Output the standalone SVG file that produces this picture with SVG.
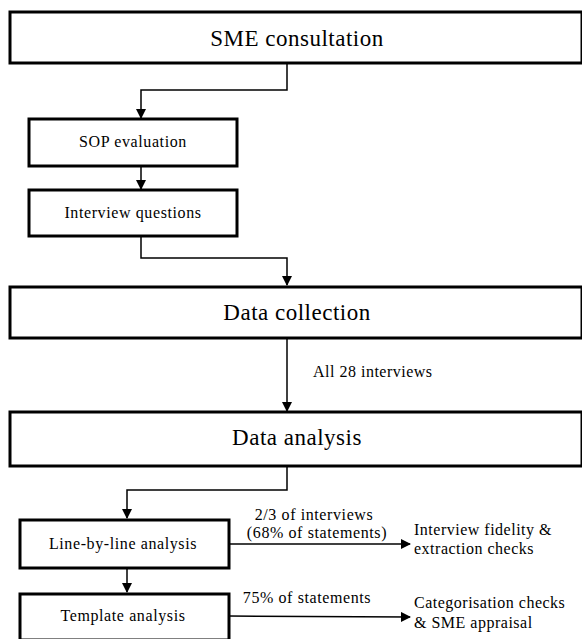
<svg xmlns="http://www.w3.org/2000/svg" width="582" height="639" viewBox="0 0 582 639" font-family="Liberation Serif, DejaVu Serif, serif">
<style>
.box{fill:#fff;stroke:#000;stroke-width:3}
.big{font-size:23px;letter-spacing:0.5px;fill:#000;text-anchor:middle}
.mid{font-size:16px;letter-spacing:0.6px;fill:#000;text-anchor:middle}
.lbl{font-size:16px;letter-spacing:0.5px;fill:#000}
.con{fill:none;stroke:#000;stroke-width:1.5}
</style>
<defs>
<marker id="ah" markerWidth="10" markerHeight="10" refX="9" refY="5" orient="auto" markerUnits="userSpaceOnUse">
<path d="M0,0 L10,5 L0,10 Z" fill="#000"/>
</marker>
</defs>
<rect width="582" height="639" fill="#fff"/>
<g id="connectors">
<path class="con" d="M287,63 V90 H141 V118" marker-end="url(#ah)"/>
<path class="con" d="M141,167 V189" marker-end="url(#ah)"/>
<path class="con" d="M141,237 V258 H287 V285" marker-end="url(#ah)"/>
<path class="con" d="M287,338 V411" marker-end="url(#ah)"/>
<path class="con" d="M287,466 V490 H127 V518" marker-end="url(#ah)"/>
<path class="con" d="M127,568 V592" marker-end="url(#ah)"/>
<path class="con" d="M229,544 H410" marker-end="url(#ah)"/>
<path class="con" d="M229,616 L410,617" marker-end="url(#ah)"/>
<text class="lbl" x="313" y="377">All 28 interviews</text>
<text class="mid" x="314" y="520">2/3 of interviews</text>
<text class="mid" x="317" y="538">(68% of statements)</text>
<text class="mid" x="307" y="603">75% of statements</text>
</g>
<g id="sme"><rect class="box" x="10" y="12" width="572" height="51"/><text class="big" x="297" y="46">SME consultation</text></g>
<g id="sop"><rect class="box" x="29" y="119" width="208" height="47"/><text class="mid" x="133" y="147">SOP evaluation</text></g>
<g id="iq"><rect class="box" x="29" y="190" width="208" height="46"/><text class="mid" x="133" y="218">Interview questions</text></g>
<g id="dc"><rect class="box" x="10" y="287" width="572" height="51"/><text class="big" x="297" y="320">Data collection</text></g>
<g id="da"><rect class="box" x="10" y="412" width="572" height="54"/><text class="big" x="297" y="445">Data analysis</text></g>
<g id="lbl"><rect class="box" x="20" y="520" width="209" height="48"/><text class="mid" x="123" y="549">Line-by-line analysis</text></g>
<g id="ta"><rect class="box" x="20" y="594" width="209" height="46"/><text class="mid" x="123" y="621">Template analysis</text></g>
<g id="ifc"><text class="lbl" x="414" y="535">Interview fidelity &amp;</text><text class="lbl" x="414" y="554">extraction checks</text></g>
<g id="cc"><text class="lbl" x="414" y="608">Categorisation checks</text><text class="lbl" x="414" y="628">&amp; SME appraisal</text></g>
</svg>
